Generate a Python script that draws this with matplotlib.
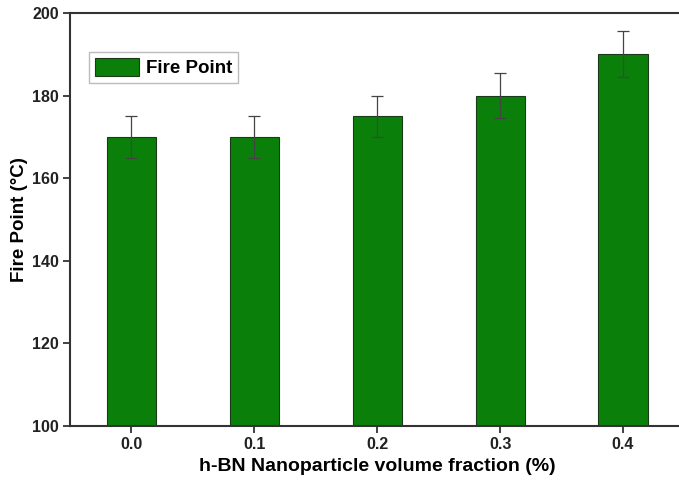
import matplotlib.pyplot as plt
import numpy as np

plt.rcParams['font.family'] = ['Liberation Sans', 'DejaVu Sans']

fractions = [0.0, 0.1, 0.2, 0.3, 0.4]
tick_labels = ["0.0", "0.1", "0.2", "0.3", "0.4"]
fire_point = [170, 170, 175, 180, 190]
fire_err = [5, 5, 5, 5.5, 5.6]

fig = plt.figure(figsize=(6.79, 4.83), dpi=100)
ax = fig.add_axes([70 / 679, 57 / 483, 614.5 / 679, 413 / 483])

ax.bar(fractions, fire_point, width=0.04, color="#0a800a", edgecolor="#1a3a1a",
       linewidth=0.8, label="Fire Point", zorder=2)
ax.errorbar(fractions, fire_point, yerr=fire_err, fmt="none", ecolor="#444444",
            elinewidth=0.9, capsize=4, capthick=0.9, zorder=3)

ax.set_xlim(-0.05, 0.45)
ax.set_ylim(100, 200)
ax.set_xticks(fractions)
ax.set_xticklabels(tick_labels)
ax.set_yticks([100, 120, 140, 160, 180, 200])

for s in ["left", "bottom", "top"]:
    ax.spines[s].set_linewidth(1.5)
    ax.spines[s].set_color("#333333")
ax.spines["right"].set_visible(False)
ax.tick_params(direction="out", length=5, width=1.3, color="#333333",
               labelsize=11.5, pad=3)
for lab in ax.get_xticklabels() + ax.get_yticklabels():
    lab.set_fontweight("bold")
    lab.set_color("#222222")

ax.set_xlabel("h-BN Nanoparticle volume fraction (%)", fontsize=14,
              fontweight="bold", labelpad=4)
ax.set_ylabel("Fire Point (\u00b0C)", fontsize=13.5, fontweight="bold", labelpad=3)

leg = ax.legend(loc="upper left", bbox_to_anchor=(89 / 679, 1 - 52 / 483),
                bbox_transform=fig.transFigure, prop={"weight": "bold", "size": 13.5},
                fancybox=False, edgecolor="#aaaaaa", handlelength=2.35,
                handleheight=1.1, borderpad=0.3, handletextpad=0.4,
                borderaxespad=0)
leg.get_frame().set_linewidth(1.0)

fig.savefig("out.png", dpi=100)
